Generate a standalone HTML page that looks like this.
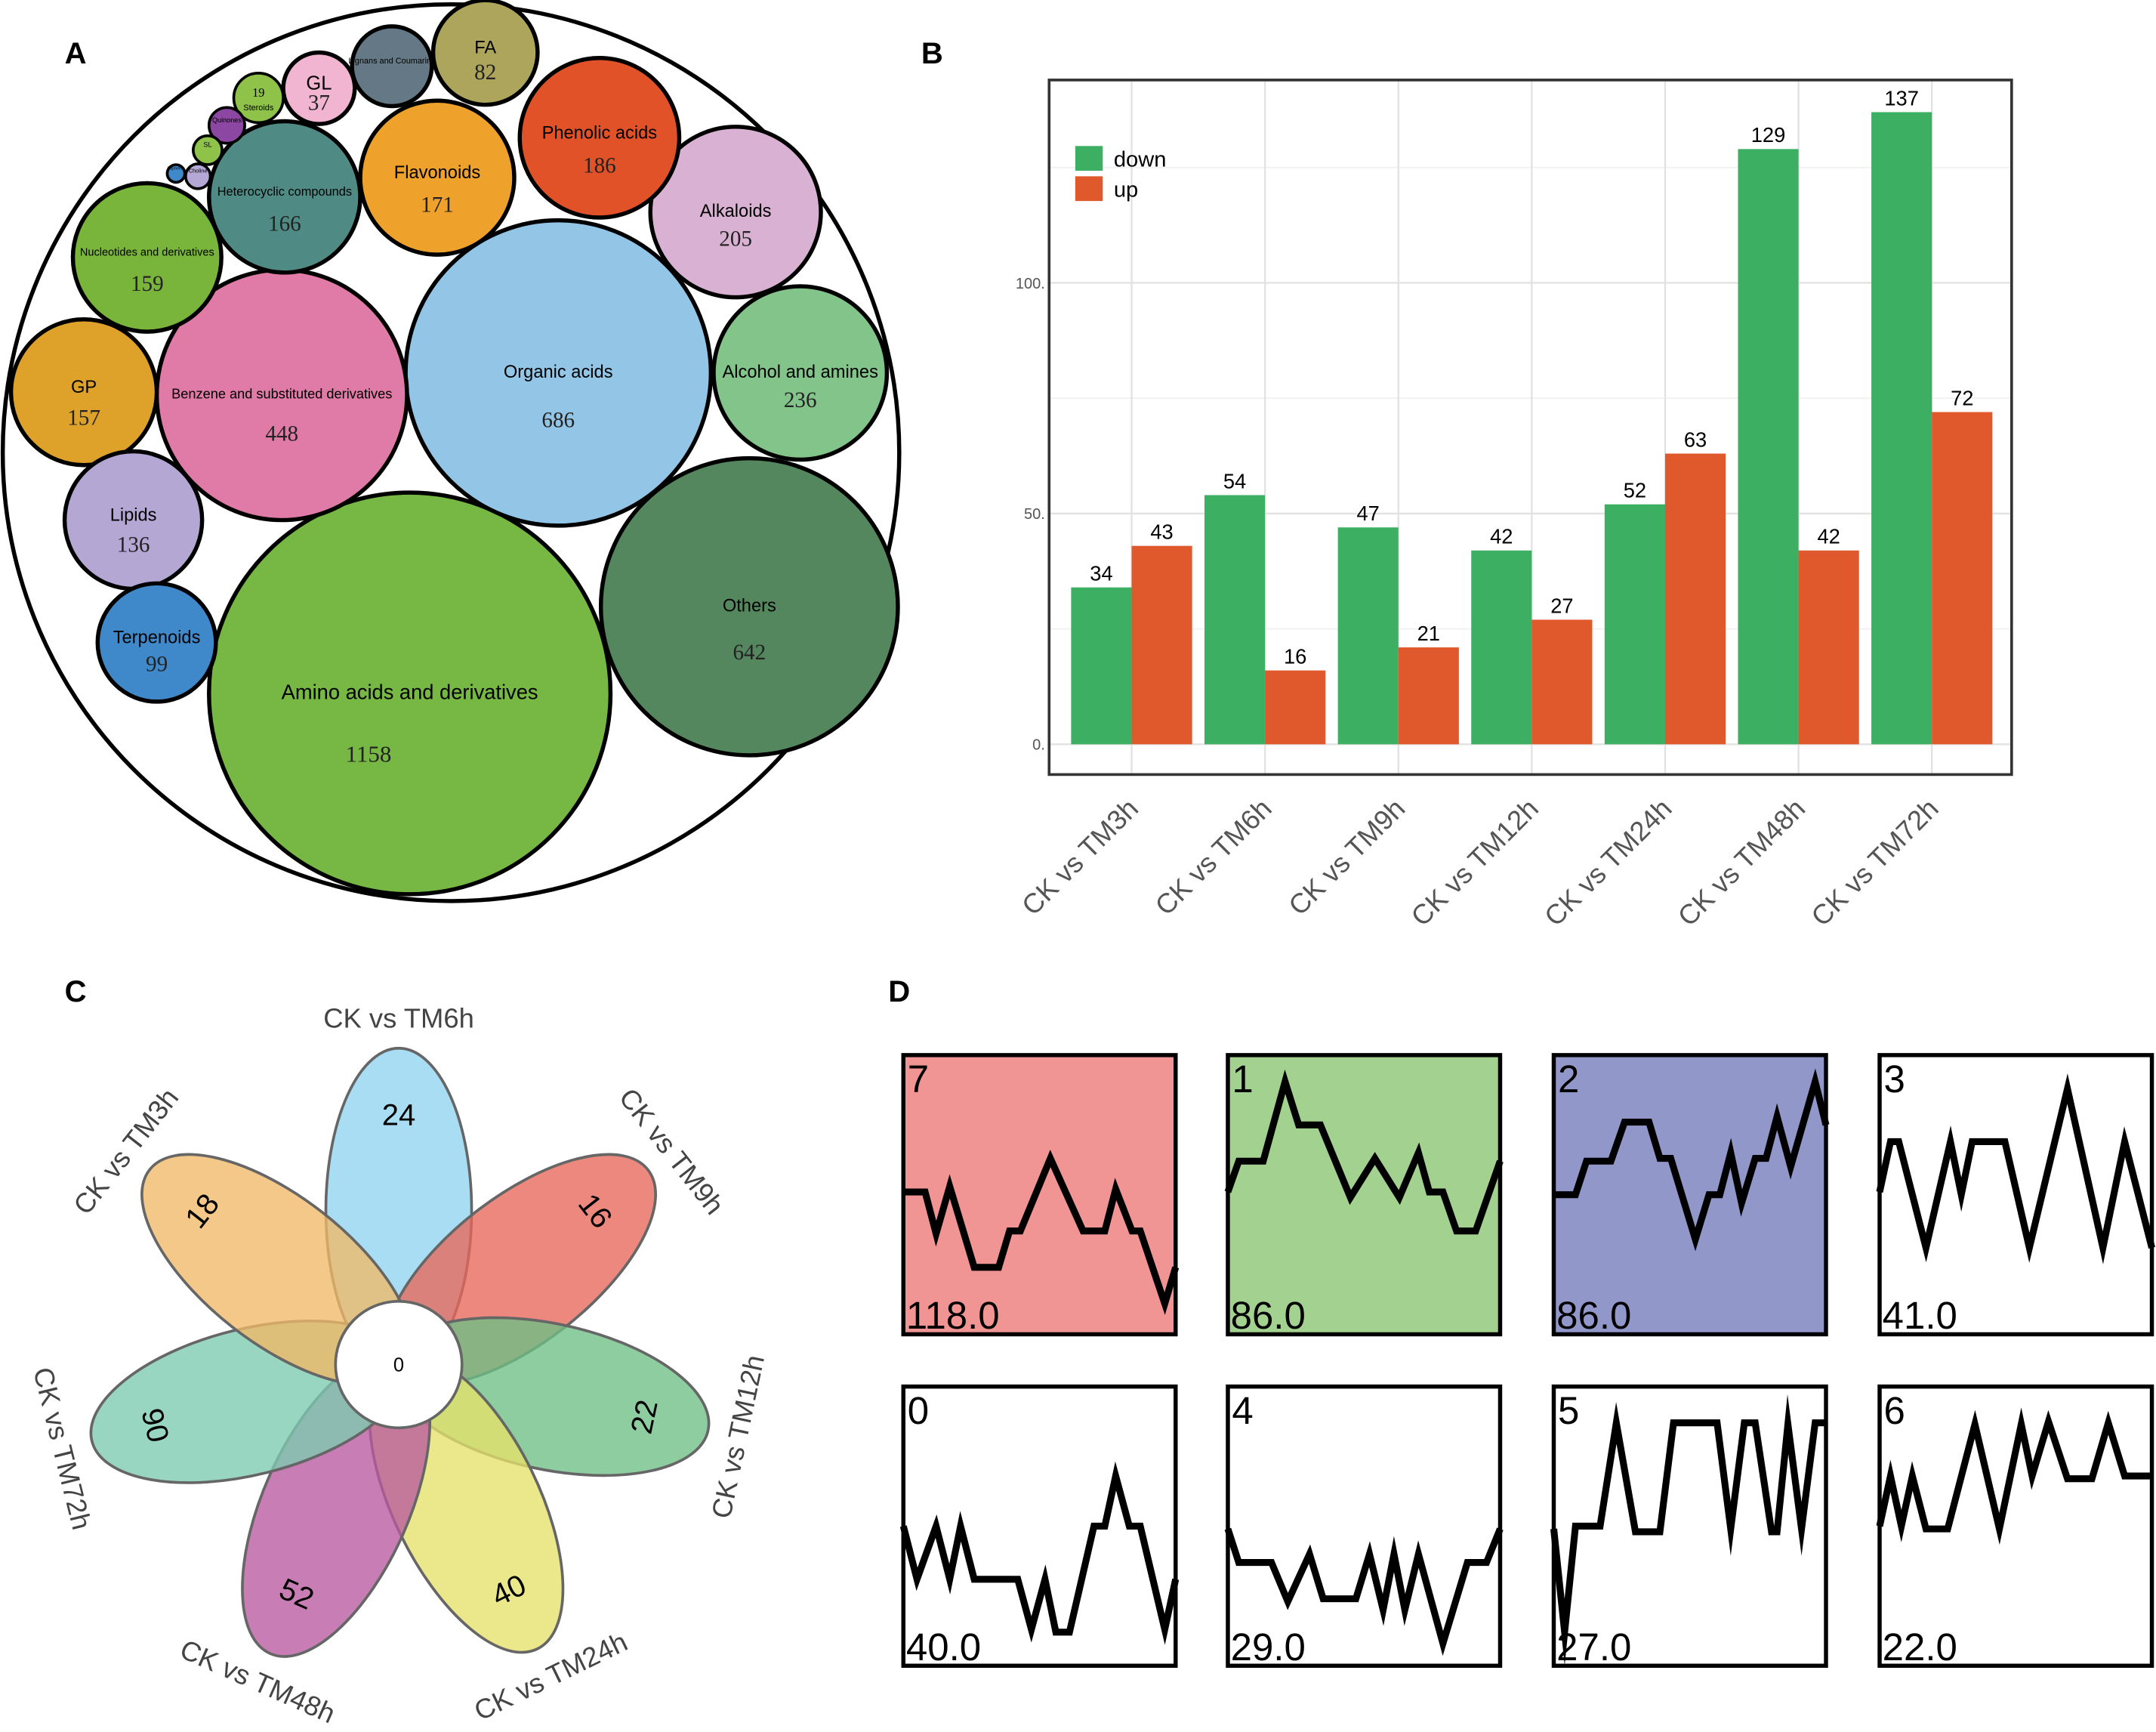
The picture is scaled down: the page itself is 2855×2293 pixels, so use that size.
<!DOCTYPE html>
<html><head><meta charset="utf-8"><style>
html,body{margin:0;padding:0;background:#fff}
svg{display:block}
text{font-family:"Liberation Sans",sans-serif}
text.serif{font-family:"Liberation Serif",serif}
</style></head><body>
<svg id="root" width="2855" height="2293" viewBox="0 0 1568 1259" xmlns="http://www.w3.org/2000/svg">
<g id="pa">
<text x="47" y="46" font-size="22" font-weight="bold">A</text>
<circle cx="328" cy="329" r="326" fill="#fff" stroke="#000" stroke-width="3"/>
</g>
<g id="pb">
<text x="670" y="46" font-size="22" font-weight="bold">B</text>
</g>
<g id="pc">
<text x="47" y="728" font-size="22" font-weight="bold">C</text>
</g>
<g id="pd">
<text x="646" y="728" font-size="22" font-weight="bold">D</text>
</g>
</svg>
<script>
const NS="http://www.w3.org/2000/svg";
function mk(tag,attrs,parent,txt){const e=document.createElementNS(NS,tag);for(const k in attrs)e.setAttribute(k,attrs[k]);if(txt!==undefined)e.textContent=txt;parent.appendChild(e);return e;}

// ---------- Panel A data ----------
const bubbleNames=["Amino acids and derivatives","Organic acids","Others","Benzene and substituted derivatives","Alcohol and amines","Alkaloids","Phenolic acids","Flavonoids","Heterocyclic compounds","Nucleotides and derivatives","GP","Lipids","Terpenoids","FA","Lignans and Coumarins","GL","Steroids","Quinones","SL","Choline","Pigments"];
const bubbleValues=[1158,686,642,448,236,205,186,171,166,159,157,136,99,82,55,37,19,12,8,6,3];
const bubbleCX=[298,406,545,205,582,535,436,318,207,107,61,97,114,353,285,232,188,165,151,144,128];
const bubbleCY=[504,271,441,287,271,154,100,129,143,187,285,378,467,38,48,64,71,91,109,128,126];
const bubbleR=[146,111,108,91,63,62,58,56,55,54,53,50,43,38,29,26,18,13,10.5,9,6.4];
const bubbleColors=["#76b843","#93c5e7","#55875f","#e07aa6","#83c48b","#d9b1d3","#e15228","#eea12b","#4f8b84","#7ab53b","#dea22b","#b5a7d3","#3f89ca","#aca55b","#647985","#f1b5d1","#8ec248","#8b47a2","#8ec248","#b6a8d6","#3f89ca"];
const bubbleShow=[1,1,1,1,1,1,1,1,1,1,1,1,1,1,0,1,1,0,0,0,0];
const bubbleFont=[15,13,13,10,13,13,13,13,9,8,13,13,13,13,6,14,6,5,5,4,3];
const pa=document.getElementById('pa');
bubbleNames.forEach((n,i)=>{
  const g=mk('g',{},pa);
  
  
  mk('circle',{cx:bubbleCX[i],cy:bubbleCY[i],r:bubbleR[i],fill:bubbleColors[i],stroke:'#000','stroke-width':bubbleR[i]>20?3:2},g);
  const r=bubbleR[i];
  if(i===16){
    const a=mk('text',{x:bubbleCX[i],y:bubbleCY[i]-1,'font-size':9,'text-anchor':'middle'},g,bubbleValues[i]);a.setAttribute('class','serif');
    mk('text',{x:bubbleCX[i],y:bubbleCY[i]+9,'font-size':6,'text-anchor':'middle'},g,n);
    return;
  }
  const small=r<60;
  const ny=bubbleCY[i]+bubbleFont[i]*0.35-(small?4:1);
  mk('text',{x:bubbleCX[i],y:ny,'font-size':bubbleFont[i],'text-anchor':'middle'},g,n);
  if(bubbleShow[i]){
    const fs=i===0?17:16;
    const vy=bubbleCY[i]+r*0.3+(small?8:6);
    const t=mk('text',{x:bubbleCX[i]+(i===0?-30:0),y:vy,'font-size':fs,'text-anchor':'middle','fill':'#222'},g,bubbleValues[i]);
    t.setAttribute('class','serif');
  }
});

// ---------- Panel B data ----------
const groups=["CK vs TM3h","CK vs TM6h","CK vs TM9h","CK vs TM12h","CK vs TM24h","CK vs TM48h","CK vs TM72h"];
const downVals=[34,54,47,42,52,129,137];
const upVals=[43,16,21,27,63,42,72];
const yTicks=[0,50,100];
const yMinor=[25,75,125];
const pb=document.getElementById('pb');
const px0=763,px1=1463,py0=58,py1=563;
const yS=v=>541-v*3.355;
const xS=i=>823+i*97;
mk('rect',{x:px0,y:py0,width:px1-px0,height:py1-py0,fill:'#fff'},pb);
yMinor.forEach(v=>{const l=mk('line',{x1:px0,x2:px1,y1:yS(v),y2:yS(v),stroke:'#f0f0f0','stroke-width':1},pb);});
yTicks.forEach(v=>{
  const l=mk('line',{x1:px0,x2:px1,y1:yS(v),y2:yS(v),stroke:'#e2e2e2','stroke-width':1.3},pb);
  
  const t=mk('text',{x:px0-3,y:yS(v)+4,'font-size':11,'text-anchor':'end',fill:'#555'},pb,v+'.');
  
});
groups.forEach((g,i)=>{
  const l=mk('line',{x1:xS(i),x2:xS(i),y1:py0,y2:py1,stroke:'#e2e2e2','stroke-width':1.3},pb);
  
});
groups.forEach((g,i)=>{
  const bw=44;
  const b1=mk('rect',{x:xS(i)-bw,y:yS(downVals[i]),width:bw,height:yS(0)-yS(downVals[i]),fill:'#3caf62'},pb);
  
  const b2=mk('rect',{x:xS(i),y:yS(upVals[i]),width:bw,height:yS(0)-yS(upVals[i]),fill:'#e0592c'},pb);
  
  const t1=mk('text',{x:xS(i)-bw/2,y:yS(downVals[i])-5,'font-size':15,'text-anchor':'middle'},pb,downVals[i]);
  
  const t2=mk('text',{x:xS(i)+bw/2,y:yS(upVals[i])-5,'font-size':15,'text-anchor':'middle'},pb,upVals[i]);
  
  const xl=mk('text',{x:0,y:0,'font-size':20,'text-anchor':'end',fill:'#555',transform:`translate(${xS(i)+6},${py1+26}) rotate(-45)`},pb,g);
  
});
const fr=mk('rect',{x:px0,y:py0,width:px1-px0,height:py1-py0,fill:'none',stroke:'#333','stroke-width':2},pb);

const lg=mk('g',{},pb);
mk('rect',{x:782,y:106,width:20,height:18,fill:'#3caf62'},lg);
mk('text',{x:810,y:121,'font-size':16},lg,'down');
mk('rect',{x:782,y:128,width:20,height:18,fill:'#e0592c'},lg);
mk('text',{x:810,y:143,'font-size':16},lg,'up');

// ---------- Panel C data ----------
const petalNames=["CK vs TM6h","CK vs TM9h","CK vs TM12h","CK vs TM24h","CK vs TM48h","CK vs TM72h","CK vs TM3h"];
const petalCounts=[24,16,22,40,52,90,18];
const petalColors=["#8fd3ef","#e8665a","#6ebf85","#e6e26a","#b85aa0","#7ccbb0","#f0b866"];
const coreCount=0;
const pc=document.getElementById('pc');
const CX=290,CY=992;
const petalAngles=[0,52,102,154,204,256,308];
petalAngles.forEach((a,i)=>{
  const e=mk('ellipse',{cx:CX,cy:CY-112,rx:53,ry:118,fill:petalColors[i],'fill-opacity':0.78,stroke:'#666','stroke-width':2,transform:`rotate(${a} ${CX} ${CY})`},pc);
  
  
});
petalAngles.forEach((a,i)=>{
  const rad=a*Math.PI/180;
  const nr=182, lr=252;
  const nx=CX+nr*Math.sin(rad), ny=CY-nr*Math.cos(rad);
  let rot=a>180?a-360:a; if(Math.abs(rot)>90) rot=rot>0?rot-180:rot+180;
  const t=mk('text',{x:nx,y:ny+8,'font-size':22,'text-anchor':'middle',transform:`rotate(${rot} ${nx} ${ny})`},pc,petalCounts[i]);
  
  const lx=CX+lr*Math.sin(rad), ly=CY-lr*Math.cos(rad);
  const l=mk('text',{x:lx,y:ly+7,'font-size':20,'text-anchor':'middle',fill:'#444',transform:`rotate(${rot} ${lx} ${ly})`},pc,petalNames[i]);
  
});
const cc=mk('circle',{cx:CX,cy:CY,r:46,fill:'#fff',stroke:'#666','stroke-width':2},pc);

mk('text',{x:CX,y:CY+5,'font-size':14,'text-anchor':'middle'},pc,coreCount);

// ---------- Panel D data ----------
const clusterIds=["7","1","2","3","0","4","5","6"];
const clusterSizes=["118.0","86.0","86.0","41.0","40.0","29.0","27.0","22.0"];
const clusterBg=["#f09594","#a3d18f","#9297c9","#fff","#fff","#fff","#fff","#fff"];
const t7=[0,.08,.12,.17,.26,.35,.39,.43,.54,.66,.74,.78,.84,.87,.96,1];
const v7=[.49,.49,.64,.47,.76,.76,.63,.63,.37,.63,.63,.48,.63,.63,.89,.76];
const t1=[0,.04,.13,.21,.26,.34,.45,.54,.63,.7,.74,.79,.84,.91,1];
const v1=[.49,.38,.38,.095,.25,.25,.51,.37,.51,.35,.49,.49,.63,.63,.38];
const t2=[0,.08,.12,.21,.26,.35,.39,.43,.52,.57,.61,.65,.69,.74,.78,.82,.87,.96,1];
const v2=[.5,.5,.38,.38,.24,.24,.37,.37,.66,.5,.5,.35,.53,.37,.37,.22,.4,.095,.25];
const t3=[0,.04,.07,.17,.26,.3,.34,.46,.55,.69,.82,.9,1];
const v3=[.49,.31,.31,.69,.31,.5,.31,.31,.69,.12,.69,.31,.69];
const t0=[0,.05,.12,.17,.21,.26,.42,.47,.52,.56,.61,.7,.74,.78,.83,.87,.96,1];
const v0=[.5,.69,.5,.69,.5,.69,.69,.87,.69,.88,.88,.5,.5,.32,.5,.5,.87,.69];
const t4=[0,.04,.16,.22,.3,.35,.47,.52,.57,.61,.65,.7,.79,.88,.95,1];
const v4=[.51,.63,.63,.77,.6,.76,.76,.6,.8,.6,.8,.6,.92,.63,.63,.51];
const t5=[0,.04,.08,.17,.23,.3,.39,.44,.6,.65,.7,.74,.8,.82,.86,.91,.96,1];
const v5=[.51,.88,.5,.5,.13,.52,.52,.13,.13,.51,.13,.13,.52,.52,.135,.51,.13,.13];
const t6=[0,.04,.08,.12,.17,.25,.35,.44,.52,.56,.62,.69,.78,.84,.9,1];
const v6=[.5,.32,.5,.32,.51,.51,.135,.51,.135,.32,.125,.33,.33,.13,.32,.32];
const clusterT=[t7,t1,t2,t3,t0,t4,t5,t6];
const clusterV=[v7,v1,v2,v3,v0,v4,v5,v6];
const pd=document.getElementById('pd');
const boxX=[657,893,1130,1367], boxY=[767,1008], bw=198, bh=203;
clusterIds.forEach((id,k)=>{
  const bx=boxX[k%4], by=boxY[Math.floor(k/4)];
  const g=mk('g',{},pd);
  
  mk('rect',{x:bx,y:by,width:bw,height:bh,fill:clusterBg[k]},g);
  const xs=t=>bx+t*bw, ys=v=>by+v*bh;
  const pts=clusterT[k].map((t,j)=>xs(t).toFixed(1)+','+ys(clusterV[k][j]).toFixed(1)).join(' ');
  const pl=mk('polyline',{points:pts,fill:'none',stroke:'#000','stroke-width':5,'stroke-linejoin':'miter','stroke-miterlimit':10},g);
  
  mk('rect',{x:bx,y:by,width:bw,height:bh,fill:'none',stroke:'#000','stroke-width':3},g);
  mk('text',{x:bx+3,y:by+27,'font-size':28},g,id);
  mk('text',{x:bx+2,y:by+bh-4,'font-size':28},g,clusterSizes[k]);
});
</script>
</body></html>
